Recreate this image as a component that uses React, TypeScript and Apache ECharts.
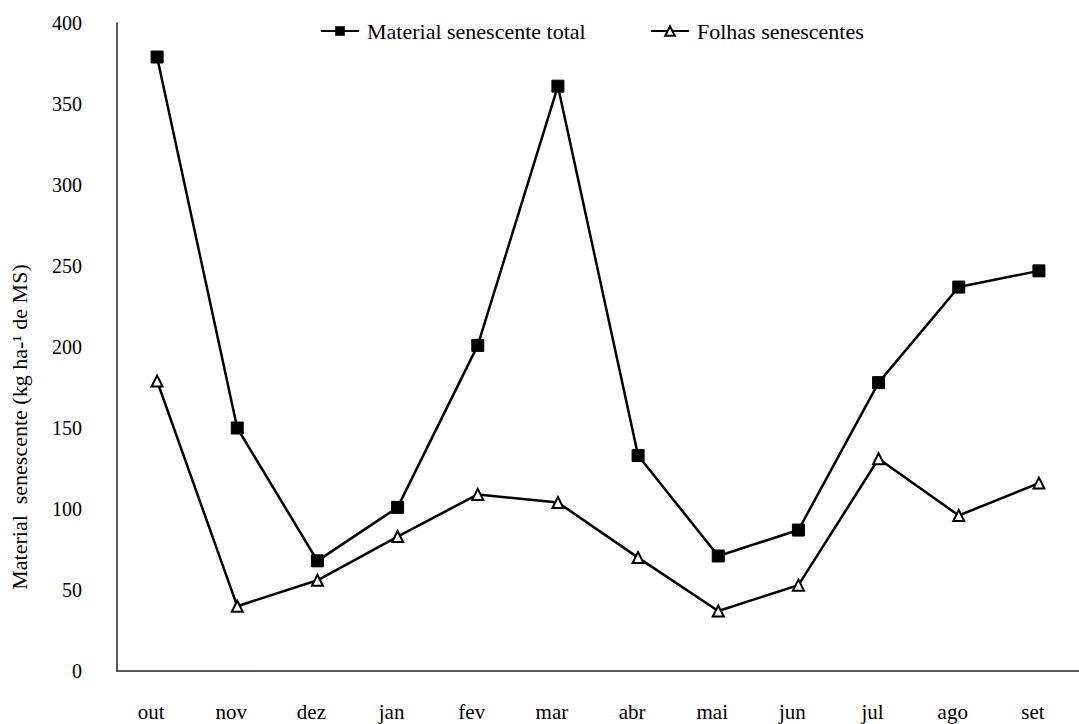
import React, { useEffect, useRef } from "react";
import * as echarts from "echarts";

const months = ["out", "nov", "dez", "jan", "fev", "mar", "abr", "mai", "jun", "jul", "ago", "set"];
const totalSenescent = [379, 150, 68, 101, 201, 361, 133, 71, 87, 178, 237, 247];
const senescentLeaves = [179, 40, 56, 83, 109, 104, 70, 37, 53, 131, 96, 116];
const yTicks = { min: 0, max: 400, interval: 50 };
const seriesNames = ["Material senescente total", "Folhas senescentes"];

const FONT = "Liberation Serif";

export default function App() {
  const ref = useRef<HTMLDivElement>(null);
  useEffect(() => {
    if (!ref.current) return;
    const chart = echarts.init(ref.current, null, { renderer: "svg" });
    const legendBase = {
      top: 15,
      itemWidth: 38,
      itemHeight: 12,
      textStyle: { fontFamily: FONT, fontSize: 22, color: "#000", padding: [0, 0, 0, 3] },
    };
    chart.setOption({
      animation: false,
      backgroundColor: "#ffffff",
      textStyle: { fontFamily: FONT, color: "#000" },
      legend: [
        { ...legendBase, left: 315, data: [seriesNames[0]] },
        { ...legendBase, left: 645, data: [seriesNames[1]] },
      ],
      grid: { left: 117, top: 23, width: 966, bottom: 53, containLabel: false },
      xAxis: {
        type: "category",
        data: months,
        boundaryGap: true,
        axisLine: { lineStyle: { color: "#222", width: 1.5 } },
        axisTick: { show: false },
        axisLabel: { fontFamily: FONT, fontSize: 21, color: "#000", margin: 30, padding: [0, 12, 0, 0] },
      },
      yAxis: {
        type: "value",
        min: yTicks.min,
        max: yTicks.max,
        interval: yTicks.interval,
        splitLine: { show: false },
        axisLine: { show: true, lineStyle: { color: "#222", width: 1.5 } },
        axisTick: { show: false },
        axisLabel: { fontFamily: FONT, fontSize: 20, color: "#000", margin: 35 },
      },
      graphic: [
        {
          type: "text",
          x: 19,
          y: 427,
          rotation: Math.PI / 2,
          style: {
            text: "Material  senescente (kg ha-¹ de MS)",
            fontFamily: FONT,
            fontSize: 22,
            fill: "#000",
            align: "center",
            verticalAlign: "middle",
          },
        },
      ],
      series: [
        {
          name: seriesNames[0],
          type: "line",
          data: totalSenescent,
          symbol: "rect",
          symbolSize: 12,
          lineStyle: { color: "#000", width: 2.5 },
          itemStyle: { color: "#000", borderColor: "#000" },
        },
        {
          name: seriesNames[1],
          type: "line",
          data: senescentLeaves,
          symbol: "triangle",
          symbolSize: 11,
          lineStyle: { color: "#000", width: 2.5 },
          itemStyle: { color: "#fff", borderColor: "#000", borderWidth: 2 },
        },
      ],
    });
    return () => chart.dispose();
  }, []);
  return (
    <div
      ref={ref}
      style={{ position: "absolute", left: 0, top: 0, width: 1079, height: 724 }}
    />
  );
}
